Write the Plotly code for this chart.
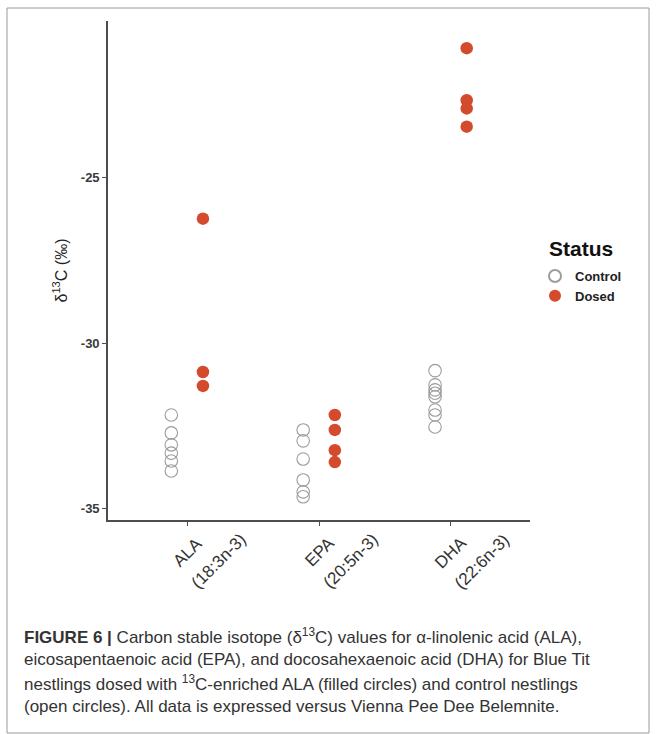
import plotly.graph_objects as go

# ---- data ----
categories = ["ALA", "EPA", "DHA"]
category_formulas = ["(18:3n-3)", "(20:5n-3)", "(22:6n-3)"]

control_ala = [-32.17, -32.71, -33.07, -33.32, -33.56, -33.86]
control_epa = [-32.62, -32.95, -33.50, -34.13, -34.49, -34.64]
control_dha = [-30.83, -31.26, -31.41, -31.51, -31.62, -32.02, -32.17, -32.53]

dosed_ala = [-26.24, -30.87, -31.29]
dosed_epa = [-32.17, -32.62, -33.23, -33.59]
dosed_dha = [-21.09, -22.66, -22.91, -23.46]

y_ticks = [-35, -30, -25]

control_vals = [control_ala, control_epa, control_dha]
dosed_vals = [dosed_ala, dosed_epa, dosed_dha]

DODGE = 0.12

def expand(groups, offset):
    xs, ys = [], []
    for i, vals in enumerate(groups):
        for v in vals:
            xs.append(i + 1 + offset)
            ys.append(v)
    return xs, ys

cx, cy = expand(control_vals, -DODGE)
dx, dy = expand(dosed_vals, DODGE)

fig = go.Figure()
fig.add_trace(go.Scatter(
    x=cx, y=cy, mode="markers", name="<b>Control</b>",
    marker=dict(symbol="circle-open", size=12.5, color="#9c9c9c",
                line=dict(width=1.1, color="#9c9c9c")),
))
fig.add_trace(go.Scatter(
    x=dx, y=dy, mode="markers", name="<b>Dosed</b>",
    marker=dict(symbol="circle", size=12.5, color="#D34A2D",
                line=dict(width=0)),
))

axis_col = "#4d4d4d"
W, H = 657, 734
L, R, T, B = 108, 530, 21, 520

def px2x(px):
    return (px - L) / (R - L)

def py2y(py):
    return (B - py) / (B - T)

fig.update_layout(
    width=W, height=H,
    margin=dict(l=L, r=W - R, t=T, b=H - B),
    paper_bgcolor="white", plot_bgcolor="white",
    showlegend=True,
    legend=dict(
        x=px2x(535), y=py2y(261), xanchor="left", yanchor="top",
        font=dict(size=13, color="#222", family="Liberation Sans"),
        bgcolor="rgba(0,0,0,0)", tracegroupgap=0, itemsizing="constant",
    ),
    xaxis=dict(
        range=[0.4, 3.6],
        tickvals=[1, 2, 3], showticklabels=False,
        showline=True, linecolor=axis_col, linewidth=1.6,
        ticks="outside", ticklen=4, tickwidth=1, tickcolor=axis_col,
        showgrid=False, zeroline=False,
    ),
    yaxis=dict(
        range=[-35.34, -20.27],
        tickvals=y_ticks, ticktext=[f"<b>{v}</b>" for v in y_ticks],
        showline=True, linecolor=axis_col, linewidth=1.6,
        ticks="outside", ticklen=4, tickwidth=1, tickcolor=axis_col,
        showgrid=False, zeroline=False,
        tickfont=dict(size=13, color="#3a3a3a", family="Liberation Sans"),
        title=dict(text="δ<sup>13</sup>C (‰)", standoff=9,
                   font=dict(size=16, color="#222", family="Liberation Sans")),
    ),
)

# legend title
fig.add_annotation(
    text="<b>Status</b>", xref="paper", yref="paper",
    x=px2x(547), y=py2y(248), xanchor="left", yanchor="middle", showarrow=False,
    font=dict(size=21, color="#111", family="Liberation Sans"),
)

# category labels (two lines each), rotated like the reference
for i, (name, formula) in enumerate(zip(categories, category_formulas)):
    fig.add_annotation(
        text=name, x=i + 1, xref="x", xshift=0,
        yref="paper", y=py2y(552), xanchor="center", yanchor="middle",
        textangle=-45, showarrow=False,
        font=dict(size=17, color="#333", family="Liberation Sans"),
    )
    fig.add_annotation(
        text=formula, x=i + 1, xref="x", xshift=31,
        yref="paper", y=py2y(561), xanchor="center", yanchor="middle",
        textangle=-45, showarrow=False,
        font=dict(size=17, color="#333", family="Liberation Sans"),
    )

# frame around the whole figure
fig.add_shape(type="rect", xref="paper", yref="paper",
              x0=px2x(7), x1=px2x(649), y0=py2y(733), y1=py2y(8),
              line=dict(color="#9a9a9a", width=1), fillcolor="rgba(0,0,0,0)", layer="below")

caption_lines = [
    "<b>FIGURE 6 |</b> Carbon stable isotope (δ<sup>13</sup>C) values for α-linolenic acid (ALA),",
    "eicosapentaenoic acid (EPA), and docosahexaenoic acid (DHA) for Blue Tit",
    "nestlings dosed with <sup>13</sup>C-enriched ALA (filled circles) and control nestlings",
    "(open circles). All data is expressed versus Vienna Pee Dee Belemnite.",
]
for i, line in enumerate(caption_lines):
    fig.add_annotation(
        text=line, xref="paper", yref="paper",
        x=px2x(22), y=py2y(636 + 23.5 * i), xanchor="left", yanchor="middle",
        showarrow=False, align="left",
        font=dict(size=17, color="#333", family="Liberation Sans"),
    )

fig.write_html("out.html")
